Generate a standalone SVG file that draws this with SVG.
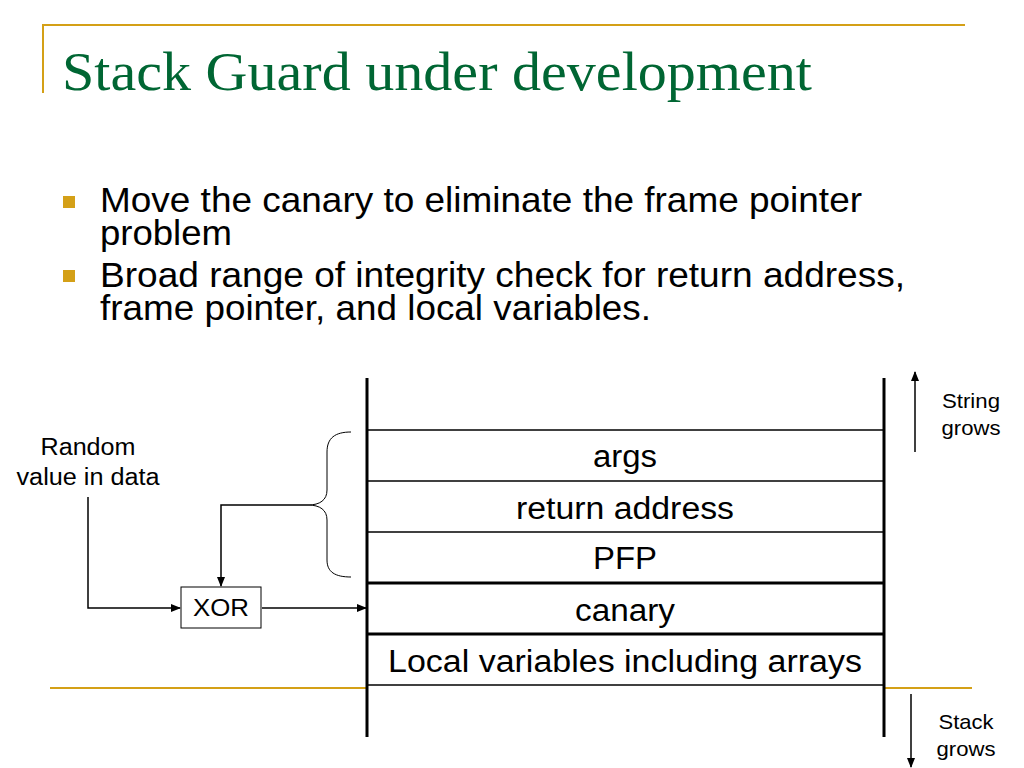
<svg xmlns="http://www.w3.org/2000/svg" width="1024" height="768" viewBox="0 0 1024 768">
<style>
.gold{stroke:#D4A017;stroke-width:2;fill:none}
.t{font-family:"Liberation Sans",Arial,sans-serif;fill:#000}
.cell{font-family:"Liberation Sans",Arial,sans-serif;font-size:31px;text-anchor:middle}
.thin{stroke:#000;stroke-width:1.5;fill:none}
.thick{stroke:#000;stroke-width:3;fill:none}
.c{stroke:#000;stroke-width:1.5;fill:none}
</style>
<defs>
<marker id="ah" markerWidth="10" markerHeight="10" refX="9" refY="5" orient="auto" markerUnits="userSpaceOnUse">
<path d="M0,1 L10,5 L0,9 z" fill="#000"/>
</marker>
</defs>
<rect width="1024" height="768" fill="#fff"/>
<g id="frame">
<line class="gold" x1="42" y1="25" x2="965" y2="25"/>
<line class="gold" x1="43" y1="24" x2="43" y2="93"/>
<line class="gold" x1="50" y1="688" x2="368" y2="688"/>
<line class="gold" x1="884" y1="688" x2="972" y2="688"/>
</g>
<text x="62" y="90" font-family="'Liberation Serif','Times New Roman',serif" font-size="55" fill="#006633" textLength="750" lengthAdjust="spacingAndGlyphs">Stack Guard under development</text>
<g id="bullets">
<rect x="63" y="196" width="12" height="12" fill="#D4A017"/>
<rect x="63" y="270" width="12" height="12" fill="#D4A017"/>
<text class="t" font-size="35" x="100" y="212" textLength="762" lengthAdjust="spacingAndGlyphs">Move the canary to eliminate the frame pointer</text>
<text class="t" font-size="35" x="100" y="245" textLength="132" lengthAdjust="spacingAndGlyphs">problem</text>
<text class="t" font-size="35" x="100" y="287" textLength="805" lengthAdjust="spacingAndGlyphs">Broad range of integrity check for return address,</text>
<text class="t" font-size="35" x="100" y="320" textLength="551" lengthAdjust="spacingAndGlyphs">frame pointer, and local variables.</text>
</g>
<g id="stack">
<line class="thick" x1="367" y1="378" x2="367" y2="737"/>
<line class="thick" x1="884" y1="378" x2="884" y2="737"/>
<line class="thin" x1="367" y1="430" x2="884" y2="430"/>
<line class="thin" x1="367" y1="481" x2="884" y2="481"/>
<line class="thin" x1="367" y1="532" x2="884" y2="532"/>
<line class="thick" x1="367" y1="583" x2="884" y2="583"/>
<line class="thick" x1="367" y1="634" x2="884" y2="634"/>
<line class="thin" x1="367" y1="685" x2="884" y2="685"/>
</g>
<g id="args"><text class="cell" x="625" y="467" textLength="64" lengthAdjust="spacingAndGlyphs">args</text></g>
<g id="ret"><text class="cell" x="625" y="519" textLength="218" lengthAdjust="spacingAndGlyphs">return address</text></g>
<g id="pfp"><text class="cell" x="625" y="569" textLength="64" lengthAdjust="spacingAndGlyphs">PFP</text></g>
<g id="canary"><text class="cell" x="625" y="621" textLength="100" lengthAdjust="spacingAndGlyphs">canary</text></g>
<g id="locals"><text class="cell" x="625" y="672" textLength="474" lengthAdjust="spacingAndGlyphs">Local variables including arrays</text></g>
<g id="brace">
<path d="M351,432 C335,432 327,438 327,452 L327,490 C327,500 320,505 308,505 C320,505 327,510 327,520 L327,560 C327,572 335,577 351,577" stroke="#000" stroke-width="1" fill="none"/>
</g>
<g id="random">
<text class="t" font-size="23" text-anchor="middle" x="88" y="455" textLength="95" lengthAdjust="spacingAndGlyphs">Random</text>
<text class="t" font-size="23" text-anchor="middle" x="88" y="485" textLength="143" lengthAdjust="spacingAndGlyphs">value in data</text>
</g>
<g id="xor">
<rect x="181" y="587" width="80" height="41" fill="#fff" stroke="#000" stroke-width="1"/>
<text class="t" font-size="24" text-anchor="middle" x="221" y="616" textLength="56" lengthAdjust="spacingAndGlyphs">XOR</text>
</g>
<g id="connectors">
<polyline class="c" points="88,497 88,608 180,608" marker-end="url(#ah)"/>
<polyline class="c" points="308,505 221,505 221,586" marker-end="url(#ah)"/>
<line class="c" x1="262" y1="608" x2="366" y2="608" marker-end="url(#ah)"/>
<line class="c" x1="915" y1="452" x2="915" y2="372" marker-end="url(#ah)"/>
<line class="c" x1="911" y1="694" x2="911" y2="767" marker-end="url(#ah)"/>
</g>
<g id="labels">
<text class="t" font-size="21" text-anchor="middle" x="971" y="408" textLength="58" lengthAdjust="spacingAndGlyphs">String</text>
<text class="t" font-size="21" text-anchor="middle" x="971" y="435" textLength="59" lengthAdjust="spacingAndGlyphs">grows</text>
<text class="t" font-size="21" text-anchor="middle" x="966" y="729" textLength="55" lengthAdjust="spacingAndGlyphs">Stack</text>
<text class="t" font-size="21" text-anchor="middle" x="966" y="756" textLength="59" lengthAdjust="spacingAndGlyphs">grows</text>
</g>
</svg>
